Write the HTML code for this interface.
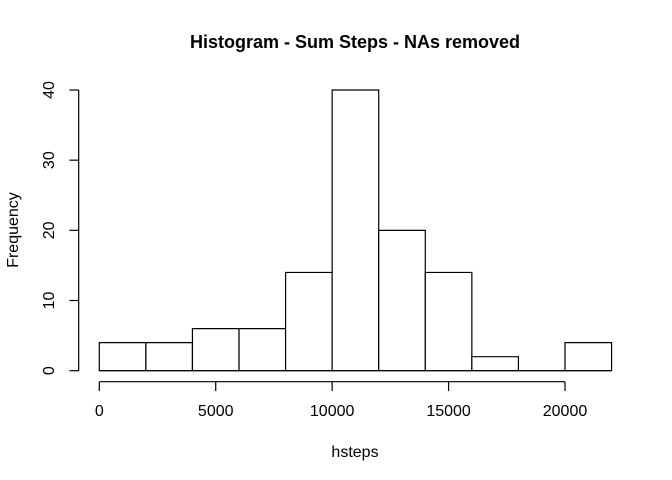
<!DOCTYPE html>
<html><head><meta charset="utf-8"><style>
body{margin:0;background:#fff}
svg{display:block;font-family:"Liberation Sans",Arial,sans-serif}
</style></head><body>
<svg width="672" height="480" viewBox="0 0 672 480" xmlns="http://www.w3.org/2000/svg">
<text x="355" y="48" text-anchor="middle" font-size="18" font-weight="bold">Histogram - Sum Steps - NAs removed</text>
<text x="355" y="457" text-anchor="middle" font-size="16">hsteps</text>
<text transform="translate(18,230) rotate(-90)" text-anchor="middle" font-size="16">Frequency</text>
<g id="bars"></g>
<g id="xaxis"></g>
<g id="yaxis"></g>
</svg>
<script>
const binEdges = [0,2000,4000,6000,8000,10000,12000,14000,16000,18000,20000,22000];
const counts = [4,4,6,6,14,40,20,14,2,0,4];
const xTicks = [0,5000,10000,15000,20000];
const yTicks = [0,10,20,30,40];
const NS="http://www.w3.org/2000/svg";
const xs = v => 99.3 + v*(465.7/20000);
const ys = v => 370.7 - v*(280.7/40);
function mk(tag, attrs, parent){const e=document.createElementNS(NS,tag);for(const k in attrs)e.setAttribute(k,attrs[k]);parent.appendChild(e);return e;}
const bars=document.getElementById('bars');
counts.forEach((c,i)=>{
  const x0=xs(binEdges[i]),x1=xs(binEdges[i+1]),y=ys(c),y0=ys(0);
  const r=mk('path',{d:`M${x0},${y0}L${x0},${y}L${x1},${y}L${x1},${y0}Z`,fill:'#fff',stroke:'#000','stroke-width':1.2},bars);
  
  
});
const base=mk('line',{x1:xs(binEdges[0]),x2:xs(binEdges[binEdges.length-1]),y1:ys(0),y2:ys(0),stroke:'#000','stroke-width':1.2},bars);


const xa=document.getElementById('xaxis');
mk('line',{x1:xs(xTicks[0]),x2:xs(xTicks[xTicks.length-1]),y1:381.7,y2:381.7,stroke:'#000','stroke-width':1.2},xa);
xTicks.forEach(t=>{
  mk('line',{x1:xs(t),x2:xs(t),y1:381.7,y2:391,stroke:'#000','stroke-width':1.2},xa);
  const tx=mk('text',{x:xs(t),y:416,'text-anchor':'middle','font-size':16},xa);tx.textContent=t;
  
  
});
const ya=document.getElementById('yaxis');
mk('line',{x1:78.7,x2:78.7,y1:ys(yTicks[0]),y2:ys(yTicks[yTicks.length-1]),stroke:'#000','stroke-width':1.2},ya);
yTicks.forEach(t=>{
  mk('line',{x1:69.5,x2:78.7,y1:ys(t),y2:ys(t),stroke:'#000','stroke-width':1.2},ya);
  const tx=mk('text',{x:0,y:0,'text-anchor':'middle','font-size':16,transform:`translate(54,${ys(t)}) rotate(-90)`},ya);tx.textContent=t;
  
  
});
</script>
</body></html>
